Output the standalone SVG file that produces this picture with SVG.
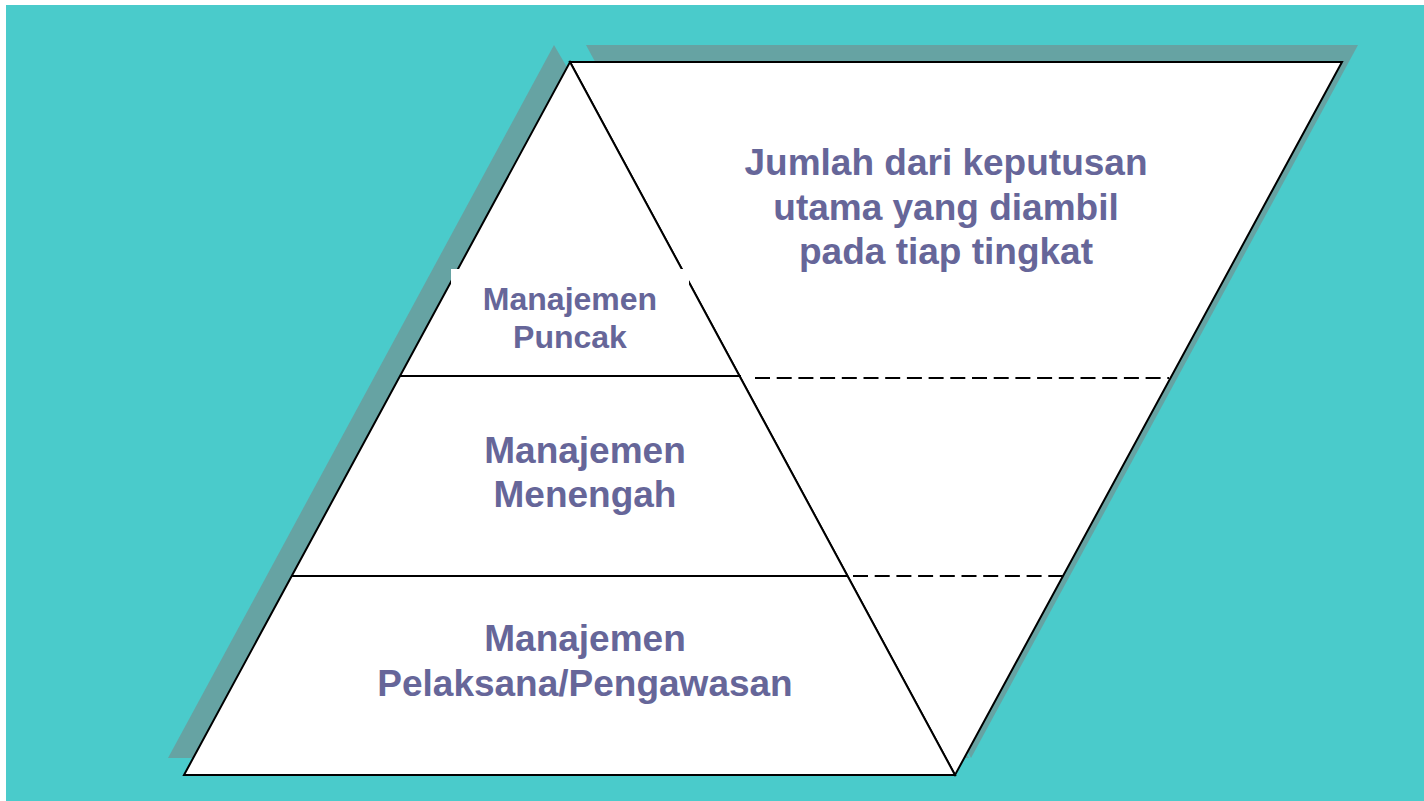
<svg xmlns="http://www.w3.org/2000/svg" width="1424" height="801" viewBox="0 0 1424 801">
<style>
.shadow{fill:#66A3A3;stroke:none}
.face{fill:#FFFFFF;stroke:#000000;stroke-width:2;stroke-linejoin:miter}
.line{stroke:#000000;stroke-width:2;fill:none}
.dash{stroke:#000000;stroke-width:2;fill:none;stroke-dasharray:15 6.7}
text{font-family:"Liberation Sans",Arial,sans-serif;font-weight:bold;fill:#666699;text-anchor:middle}
.big{font-size:37px}
.small{font-size:32px}
</style>
<rect x="6" y="5" width="1418" height="796" fill="#4ACBCB"/>
<g id="shadows">
<polygon class="shadow" points="554,45 969,758 168,758"/>
<polygon class="shadow" points="586,45 1358,45 971,758"/>
</g>
<g id="right-panel">
<polygon class="face" points="570,62 1342,62 955,775"/>
</g>
<g id="pyramid">
<polygon class="face" points="570,62 955,775 184,775"/>
</g>
<g id="connectors">
<line class="line" x1="400" y1="376" x2="741" y2="376"/>
<line class="line" x1="292" y1="576" x2="848" y2="576"/>
<line class="dash" x1="755" y1="378" x2="1169" y2="378"/>
<line class="dash" x1="853" y1="576" x2="1063" y2="576"/>
</g>
<g id="top-level">
<rect x="451" y="269" width="238" height="80" fill="#FFFFFF"/>
<text class="small" x="570" y="310">Manajemen</text>
<text class="small" x="570" y="348">Puncak</text>
</g>
<g id="middle-level">
<text class="big" x="585" y="463">Manajemen</text>
<text class="big" x="585" y="507">Menengah</text>
</g>
<g id="lower-level">
<text class="big" x="585" y="651">Manajemen</text>
<text class="big" x="585" y="696">Pelaksana/Pengawasan</text>
</g>
<g id="decisions">
<text class="big" x="946" y="175">Jumlah dari keputusan</text>
<text class="big" x="946" y="220">utama yang diambil</text>
<text class="big" x="946" y="264">pada tiap tingkat</text>
</g>
</svg>
